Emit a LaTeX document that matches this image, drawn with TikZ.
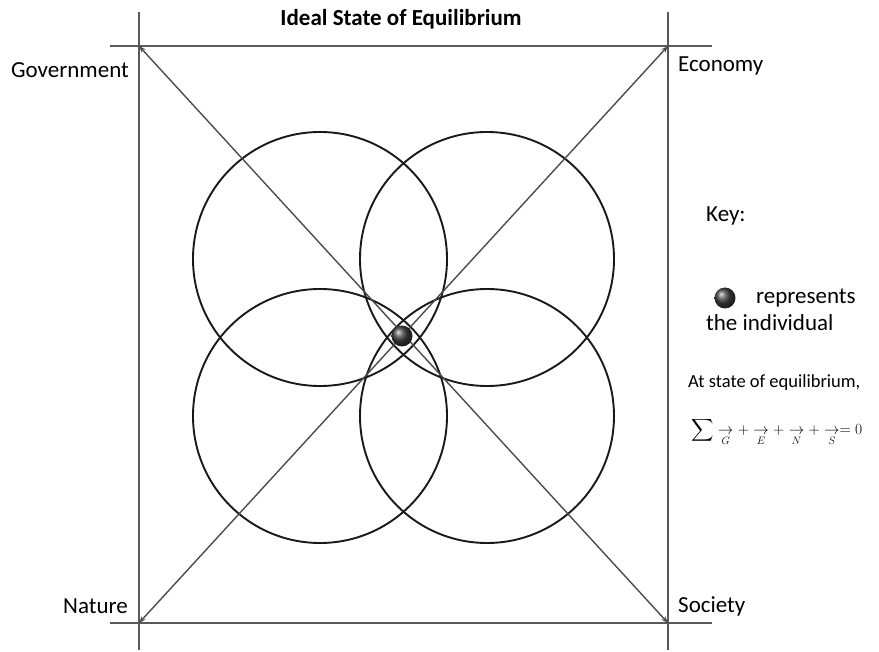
\documentclass[tikz,border=0pt]{standalone}
\usepackage{amsmath}
\usepackage{fontspec}
\setmainfont{Carlito}
\usetikzlibrary{arrows.meta}
\begin{document}
\begin{tikzpicture}[x=1pt,y=-1pt,
  frame/.style={draw=black!65,line width=1.4pt},
  ring/.style={draw=black!90,line width=1.9pt},
  ray/.style={draw=black!70,line width=1.4pt,-{Stealth[length=7pt,width=5pt]}},
  lbl/.style={font=\fontsize{23}{27}\selectfont,inner sep=0pt},
  small/.style={font=\fontsize{18.5}{22}\selectfont,inner sep=0pt}]
\useasboundingbox (0,0) rectangle (879,652);
% frame lines
\draw[frame] (139,12) -- (139,650);
\draw[frame] (668,12) -- (668,650);
\draw[frame] (110,46) -- (712,46);
\draw[frame] (110,623) -- (712,623);
% corners
\coordinate (G) at (139,46);
\coordinate (E) at (668,46);
\coordinate (N) at (139,623);
\coordinate (S) at (668,623);
% circles
\draw[ring] (320,259) circle (127);
\draw[ring] (487,259) circle (127);
\draw[ring] (320,416) circle (127);
\draw[ring] (487,416) circle (127);
% centre
\coordinate (C) at (403.5,334.5);
\draw[ray] (C) -- (G);
\draw[ray] (C) -- (E);
\draw[ray] (C) -- (N);
\draw[ray] (C) -- (S);
\node[circle,minimum size=21pt,inner sep=0pt,shading=ball,ball color=black!75] (dot) at (402,336) {};
% labels
\node[lbl,font=\fontsize{23}{27}\selectfont\bfseries] (title) at (401,19) {Ideal State of Equilibrium};
\node[lbl,anchor=west] (gov) at (11,70) {Government};
\node[lbl,anchor=west] (eco) at (678,66) {Economy};
\node[lbl,anchor=east] (nat) at (128,606) {Nature};
\node[lbl,anchor=west] (soc) at (678,606) {Society};
% key
\node[lbl,anchor=west] (key) at (706,216) {Key:};
\node[circle,minimum size=21pt,inner sep=0pt,shading=ball,ball color=black!75] (kdot) at (725,298) {};
\node[lbl,anchor=west] (rep) at (756,298) {represents};
\node[lbl,anchor=west] (ind) at (706,323) {the individual};
\node[small,anchor=west] (at) at (688,383) {At state of equilibrium,};
\node[small,anchor=west,font=\fontsize{17.28}{20}\selectfont] (eq) at (691,432) {\scalebox{0.9}{$\displaystyle\sum \underset{G}{\rightarrow} + \underset{E}{\rightarrow} + \underset{N}{\rightarrow} + \underset{S}{\rightarrow} = 0$}};
\end{tikzpicture}
\end{document}
